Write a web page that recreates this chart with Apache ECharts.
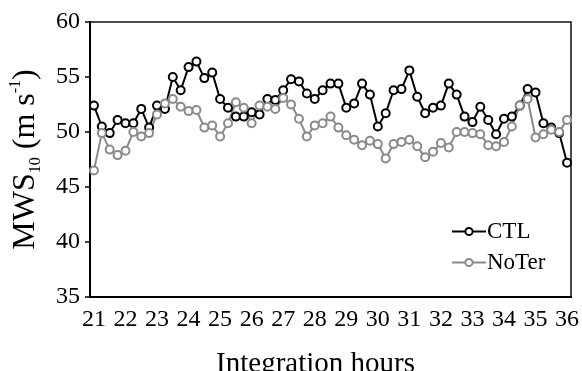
<!DOCTYPE html>
<html>
<head>
<meta charset="utf-8">
<script src="https://cdn.jsdelivr.net/npm/echarts@6/dist/echarts.min.js"></script>
<style>
  html, body { margin: 0; padding: 0; background: #fff; }
  #chart { width: 582px; height: 371px; }
</style>
</head>
<body>
<div id="chart"></div>
<script>
// Integration time (hours), one sample every 15 minutes
const hours = [
  21, 21.25, 21.5, 21.75, 22, 22.25, 22.5, 22.75, 23, 23.25, 23.5, 23.75,
  24, 24.25, 24.5, 24.75, 25, 25.25, 25.5, 25.75, 26, 26.25, 26.5, 26.75,
  27, 27.25, 27.5, 27.75, 28, 28.25, 28.5, 28.75, 29, 29.25, 29.5, 29.75,
  30, 30.25, 30.5, 30.75, 31, 31.25, 31.5, 31.75, 32, 32.25, 32.5, 32.75,
  33, 33.25, 33.5, 33.75, 34, 34.25, 34.5, 34.75, 35, 35.25, 35.5, 35.75, 36
];

// Maximum 10-m wind speed (m/s), control run
const ctl = [
  52.4, 50.5, 49.9, 51.1, 50.8, 50.8, 52.1, 50.4, 52.4, 52.1, 55.0, 53.8,
  55.9, 56.4, 54.9, 55.4, 53.0, 52.2, 51.4, 51.4, 51.8, 51.6, 53.0, 52.9,
  53.8, 54.8, 54.6, 53.5, 53.0, 53.8, 54.4, 54.4, 52.2, 52.6, 54.4, 53.4,
  50.5, 51.7, 53.8, 53.9, 55.6, 53.2, 51.7, 52.2, 52.4, 54.4, 53.4, 51.4,
  50.9, 52.3, 51.1, 49.8, 51.2, 51.4, 52.4, 53.9, 53.6, 50.8, 50.4, 49.9, 47.2
];

// Maximum 10-m wind speed (m/s), run without terrain
const noTer = [
  46.5, 49.9, 48.4, 47.9, 48.3, 50.0, 49.6, 49.9, 51.6, 52.6, 53.0, 52.3,
  51.9, 52.0, 50.4, 50.6, 49.6, 50.8, 52.7, 52.2, 50.8, 52.4, 52.3, 52.1,
  53.1, 52.5, 51.2, 49.6, 50.6, 50.8, 51.4, 50.4, 49.7, 49.3, 48.8, 49.2,
  48.9, 47.6, 48.9, 49.1, 49.3, 48.7, 47.7, 48.2, 49.0, 48.6, 50.0, 50.0,
  49.9, 49.8, 48.8, 48.7, 49.1, 50.5, 52.4, 53.0, 49.5, 49.8, 50.2, 50.0, 51.1
];

const seriesNames = ['CTL', 'NoTer'];
const seriesColors = ['#000000', '#8a8a8a'];

const FONT = "'Liberation Serif', 'Times New Roman', serif";

const chart = echarts.init(document.getElementById('chart'), null, { renderer: 'canvas' });

chart.setOption({
  animation: false,
  backgroundColor: '#ffffff',
  grid: {
    left: 90, right: 11, top: 22, bottom: 74,
    show: true, borderColor: '#111', borderWidth: 1.5,
    containLabel: false,
    outerBoundsMode: 'none'
  },
  legend: {
    orient: 'vertical',
    left: 446, top: 215,
    itemWidth: 34, itemHeight: 9, itemGap: 8,
    textStyle: { fontFamily: FONT, fontSize: 23, color: '#000', padding: [0, 0, 0, -4] },
    data: seriesNames
  },
  xAxis: {
    type: 'category',
    data: hours,
    boundaryGap: true,
    name: 'Integration hours',
    nameLocation: 'middle',
    nameGap: 53,
    nameTextStyle: { fontFamily: FONT, fontSize: 29, color: '#000', padding: [0, 30, 0, 0] },
    axisLine: { lineStyle: { color: '#000', width: 2 } },
    axisTick: { interval: 3, length: 5, inside: false, lineStyle: { color: '#000', width: 1.5 } },
    axisLabel: { interval: 3, margin: 11, fontFamily: FONT, fontSize: 24, color: '#000' },
    splitLine: { show: false }
  },
  yAxis: {
    type: 'value',
    min: 35, max: 60, interval: 5,
    name: '{t|MWS}{sub|10}{t| (m s}{sup|-1}{t|)}',
    nameLocation: 'middle',
    nameRotate: 90,
    nameGap: 46,
    nameTextStyle: {
      fontFamily: FONT, color: '#000',
      rich: {
        t: { fontFamily: FONT, fontSize: 32, lineHeight: 36, color: '#000' },
        sub: { fontFamily: FONT, fontSize: 16, lineHeight: 22, verticalAlign: 'bottom', color: '#000' },
        sup: { fontFamily: FONT, fontSize: 16, lineHeight: 28, verticalAlign: 'top', color: '#000' }
      }
    },
    axisLine: { show: true, lineStyle: { color: '#000', width: 2 } },
    axisTick: { show: true, length: 5, lineStyle: { color: '#000', width: 1.5 } },
    axisLabel: { margin: 10, fontFamily: FONT, fontSize: 24, color: '#000' },
    splitLine: { show: false }
  },
  series: [
    {
      name: seriesNames[0], type: 'line', data: ctl,
      symbol: 'emptyCircle', symbolSize: 8, showAllSymbol: true,
      lineStyle: { color: seriesColors[0], width: 2 },
      itemStyle: { color: seriesColors[0], borderWidth: 2 }
    },
    {
      name: seriesNames[1], type: 'line', data: noTer,
      symbol: 'emptyCircle', symbolSize: 8, showAllSymbol: true,
      lineStyle: { color: seriesColors[1], width: 2 },
      itemStyle: { color: seriesColors[1], borderWidth: 2 }
    }
  ]
});
</script>
</body>
</html>
